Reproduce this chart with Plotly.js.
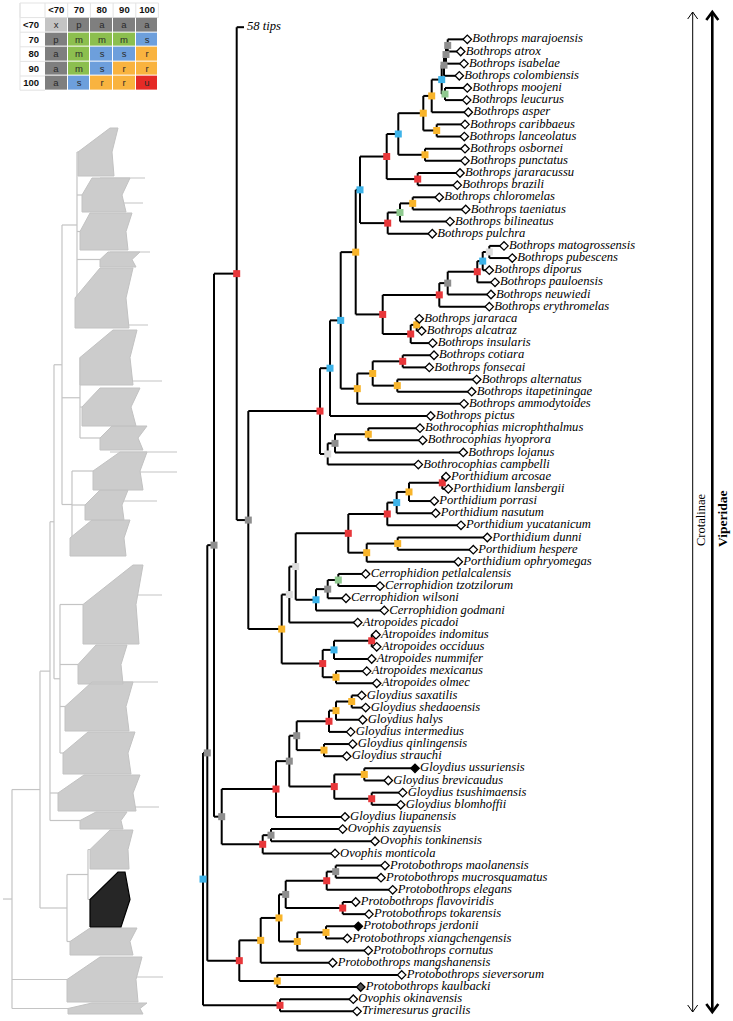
<!DOCTYPE html>
<html><head><meta charset="utf-8">
<script src="https://cdn.plot.ly/plotly-3.0.1.min.js"></script>
<style>html,body{margin:0;padding:0;background:#fff}#chart{width:733px;height:1021px}</style>
</head><body><div id="chart"></div>
<script>
// ---------------- data ----------------
const tipNames = ['58 tips',
 'Bothrops marajoensis','Bothrops atrox','Bothrops isabelae','Bothrops colombiensis','Bothrops moojeni','Bothrops leucurus','Bothrops asper','Bothrops caribbaeus','Bothrops lanceolatus','Bothrops osbornei','Bothrops punctatus','Bothrops jararacussu','Bothrops brazili','Bothrops chloromelas','Bothrops taeniatus','Bothrops bilineatus','Bothrops pulchra',
 'Bothrops matogrossensis','Bothrops pubescens','Bothrops diporus','Bothrops pauloensis','Bothrops neuwiedi','Bothrops erythromelas','Bothrops jararaca','Bothrops alcatraz','Bothrops insularis','Bothrops cotiara','Bothrops fonsecai','Bothrops alternatus','Bothrops itapetiningae','Bothrops ammodytoides','Bothrops pictus',
 'Bothrocophias microphthalmus','Bothrocophias hyoprora','Bothrops lojanus','Bothrocophias campbelli',
 'Porthidium arcosae','Porthidium lansbergii','Porthidium porrasi','Porthidium nasutum','Porthidium yucatanicum','Porthidium dunni','Porthidium hespere','Porthidium ophryomegas',
 'Cerrophidion petlalcalensis','Cerrophidion tzotzilorum','Cerrophidion wilsoni','Cerrophidion godmani','Atropoides picadoi',
 'Atropoides indomitus','Atropoides occiduus','Atropoides nummifer','Atropoides mexicanus','Atropoides olmec',
 'Gloydius saxatilis','Gloydius shedaoensis','Gloydius halys','Gloydius intermedius','Gloydius qinlingensis','Gloydius strauchi','Gloydius ussuriensis','Gloydius brevicaudus','Gloydius tsushimaensis','Gloydius blomhoffii','Gloydius liupanensis',
 'Ovophis zayuensis','Ovophis tonkinensis','Ovophis monticola',
 'Protobothrops maolanensis','Protobothrops mucrosquamatus','Protobothrops elegans','Protobothrops flavoviridis','Protobothrops tokarensis','Protobothrops jerdonii','Protobothrops xiangchengensis','Protobothrops cornutus','Protobothrops mangshanensis','Protobothrops sieversorum','Protobothrops kaulbacki','Ovophis okinavensis','Trimeresurus gracilis'];

const tipDepth = [41,
 264.3,257.7,261,256.3,264.3,263.7,265.3,262,261.3,262,262,257,254.3,236.3,262.7,247,229.3,
 301,309.3,286.3,292,288,286.3,216.3,218.7,229.7,231,226.3,273.7,268.7,261,227.7,
 217,219.7,260.3,215.3,
 243,245.3,231.3,232.7,258,284.3,270.3,255.3,
 162.7,177,143,181.3,154.7,
 173,173.7,168.7,163.7,173.7,
 158.7,162.7,159.7,147.7,149.7,143.7,212,185.3,199.7,197.7,142,
 139.7,172,132,
 182,178,189.7,152.7,166,155.3,144.3,165.3,129.7,198.7,157.7,150.3,154];

// 0 = open diamond, 1 = filled, 2 = grey filled
const tipMark = tipNames.map((n,i)=> (i===61||i===74) ? 1 : (i===79 ? 2 : 0));

// internal nodes n1..n81 (children ids)
const nodeKids = [
 ['t1','t2'],['n1','t3'],['n2','t4'],['t5','t6'],['n3','n4'],['n5','t7'],['t8','t9'],['n6','n7'],['t10','t11'],['n8','n9'],
 ['t12','t13'],['n10','n11'],['t14','t15'],['n13','t16'],['n14','t17'],['n12','n15'],['t18','t19'],['n17','t20'],['n18','t21'],['n19','t22'],
 ['n20','t23'],['t24','t25'],['n22','t26'],['n21','n23'],['n16','n24'],['t27','t28'],['t29','t30'],['n26','n27'],['n28','t31'],['n25','n29'],
 ['n30','t32'],['t33','t34'],['n32','t35'],['n33','t36'],['n31','n34'],['t37','t38'],['n36','t39'],['n37','t40'],['n38','t41'],['t42','t43'],
 ['n40','t44'],['n39','n41'],['t45','t46'],['n43','t47'],['n44','t48'],['n42','n45'],['n46','t49'],['t50','t51'],['n48','t52'],['t53','t54'],
 ['n49','n50'],['n47','n51'],['n35','n52'],['t0','n53'],['t55','t56'],['n55','t57'],['n56','t58'],['t59','t60'],['n57','n58'],['t61','t62'],
 ['t63','t64'],['n60','n61'],['n59','n62'],['n63','t65'],['t66','t67'],['n65','t68'],['n64','n66'],['n54','n67'],['t69','t70'],['n69','t71'],
 ['t72','t73'],['n70','n71'],['t74','t75'],['n73','t76'],['n72','n74'],['n75','t77'],['t78','t79'],['n76','n77'],['n68','n78'],['t80','t81'],
 ['n79','n80']];

const nodeDepth = [
 244.7,243,241,242,238.7,228.7,233.7,220.3,222,195.3,
 214.7,183.7,209.7,197,184.7,157,286.3,279.7,274.3,244.7,
 236.3,213.7,207.7,179.7,152.7,199.7,194.3,169.7,154.3,137.7,
 127,165.3,132,124.7,117,239.3,206,193.7,184.3,194.7,
 163.7,145.3,135.3,124.7,113,92.7,86.3,168.7,131,133,
 119.7,78.7,45.3,33.7,148.7,133,126,121,93.7,161.3,
 168.7,131.3,86.3,73,68,59.7,18.7,11,132.7,123.7,
 139.7,82.7,123,94.3,76,57.7,74.3,36.3,4.3,77,
 0];

const nodeSupport = [
 'a','a','a','m','s','r','r','r','r','s',
 'u','u','r','m','u','s','x','s','u','a',
 'u','r','u','u','r','u','r','r','r','s',
 's','r','a','x','u','u','r','s','u','r',
 'r','u','m','a','s','x','x','u','s','r',
 'u','r','a','u','r','r','u','r','a','r',
 'u','u','a','u','a','u','a','a','a','u',
 'u','a','r','r','r','r','r','u','a','u',
 's'];

// support-category legend table
const supportCols = ['<70','70','80','90','100'];
const supportRows = ['<70','70','80','90','100'];
const supportCodes = [
 ['x','p','a','a','a'],
 ['p','m','m','m','s'],
 ['a','m','s','s','r'],
 ['a','m','s','r','r'],
 ['a','s','r','r','u']];
const codeOrder = ['x','p','a','m','s','r','u'];

// overview (whole squamate tree) clades, top to bottom
const ovTop      = [128,178,213,252,268,330,388,426,452,490,520,565,645,682,732,775,812,830,872,928,957,1003];
const ovBot      = [176,212,250,267,328,385,426,450,490,520,556,644,684,731,774,811,829,869,927,955,1002,1014];
const ovLeft     = [78, 82, 80, 100,75, 80, 82, 100,93, 85, 70, 83, 78, 65, 63, 58, 80, 90, 90, 70, 67, 68];
const ovTopLeft  = [110,92, 90, 108,100,113,100,112,120,100,92, 133,96, 92, 88, 84, 96, 110,118,90, 100,92];
const ovRight    = [118,130,132,140,133,137,140,147,147,128,130,143,127,133,135,140,127,133,125,137,142,147];
const ovRightMid = [112,122,126,132,126,130,131,138,140,122,124,136,121,126,128,133,121,128,130,130,136,140];
const ovHighlight = 18;
const ovGroupX    = [77, 80, 72, 62, 60, 54, 50, 88, 67, 40, 12, 3];
const ovGroupKids = [['c0','c1','c2','c3','c4'],['c5','c6','c7'],['c8','c9','c10'],['g0','g1','g2'],['c11','c12','c13','c14'],['g3','g4'],['g5','c15','c16'],['c17','c18'],['g7','c19'],['g6','g8'],['g9','c20','c21'],['g10']];
const spikeY    = [178,203,252,325,381,452,472,501,595,682,807,977];
const spikeFrom = [100,110,110,112,120,110,125,110,120,110,120,125];
const spikeTo   = [145,143,150,148,162,177,177,157,162,158,159,163];

// ---------------- styles ----------------
const markerColor = {u:'#e8373a', r:'#f8b42a', s:'#3db3e9', m:'#8fc98f', a:'#8e8e8e', p:'#8e8e8e', x:'#dcdcdc'};
const tableColor  = {u:'#e52a26', r:'#f9b33f', s:'#6d9fdc', m:'#8cbf4f', a:'#7f7f7f', p:'#7f7f7f', x:'#c4c4c4'};
const serif = 'Liberation Serif, Times New Roman, serif';
const sans = 'Liberation Sans, Arial, sans-serif';

// ---------------- main tree geometry ----------------
const pos = {};
tipNames.forEach((n,i)=>{ pos['t'+i] = {x: tipDepth[i], y: i}; });
nodeKids.forEach((k,j)=>{
  const a = pos[k[0]], b = pos[k[1]];
  pos['n'+(j+1)] = {x: nodeDepth[j], y: (a.y+b.y)/2};
});
const ex = [], ey = [];
nodeKids.forEach((k,j)=>{
  const p = pos['n'+(j+1)], a = pos[k[0]], b = pos[k[1]];
  ex.push(p.x, p.x, null); ey.push(a.y, b.y, null);
  ex.push(p.x, a.x, null); ey.push(a.y, a.y, null);
  ex.push(p.x, b.x, null); ey.push(b.y, b.y, null);
});

const traces = [];
traces.push({type:'scatter', mode:'lines', x:ex, y:ey, xaxis:'x', yaxis:'y',
  line:{color:'#000', width:2}, hoverinfo:'skip', connectgaps:false});
traces.push({type:'scatter', mode:'markers', xaxis:'x', yaxis:'y',
  x: nodeKids.map((k,j)=>pos['n'+(j+1)].x), y: nodeKids.map((k,j)=>pos['n'+(j+1)].y),
  marker:{symbol:'square', size:7, color: nodeSupport.map(s=>markerColor[s]), line:{width:0}}, hoverinfo:'skip'});
const tipIdx = tipNames.map((n,i)=>i).slice(1);
traces.push({type:'scatter', mode:'markers+text', xaxis:'x', yaxis:'y',
  x: tipIdx.map(i=>tipDepth[i]), y: tipIdx.map(i=>i), text: tipIdx.map(i=>tipNames[i]),
  textposition:'middle right', textfont:{family:serif, size:12.6, style:'italic', color:'#000'},
  marker:{symbol:'diamond', size:6.5, color: tipIdx.map(i=>['#fff','#000','#555'][tipMark[i]]), line:{color:'#000', width:1.3}},
  hoverinfo:'skip', cliponaxis:false});
traces.push({type:'scatter', mode:'text', xaxis:'x', yaxis:'y', x:[tipDepth[0]+3], y:[0], text:[tipNames[0]],
  textposition:'middle right', textfont:{family:serif, size:12.6, style:'italic', color:'#000'}, hoverinfo:'skip', cliponaxis:false});

// ---------------- overview tree ----------------
const ovPos = {};
ovTop.forEach((t,i)=>{ ovPos['c'+i] = {x: ovLeft[i], y:(t+ovBot[i])/2}; });
const gx = [], gy = [];
ovGroupX.forEach((x,k)=>{
  const kids = ovGroupKids[k].map(id=>ovPos[id]);
  const y0 = kids[0].y, y1 = kids[kids.length-1].y;
  ovPos['g'+k] = {x:x, y:(y0+y1)/2};
  gx.push(x,x,null); gy.push(y0,y1,null);
  kids.forEach(c=>{ gx.push(x,c.x,null); gy.push(c.y,c.y,null); });
});
spikeY.forEach((y,i)=>{ gx.push(spikeFrom[i], spikeTo[i], null); gy.push(y,y,null); });
const px = [], py = [], hx = [], hy = [];
ovTop.forEach((t,i)=>{
  const b = ovBot[i], m = (t+b)/2;
  const X = [ovLeft[i], ovLeft[i], ovTopLeft[i], ovRight[i], ovRightMid[i], ovRight[i]-4, ovLeft[i], null];
  const Y = [b, m, t, t, m, b, b, null];
  if (i===ovHighlight) { hx.push(...X); hy.push(...Y); } else { px.push(...X); py.push(...Y); }
});
traces.push({type:'scatter', mode:'lines', x:gx, y:gy, xaxis:'x2', yaxis:'y2', line:{color:'#c4c4c4', width:1.2}, hoverinfo:'skip'});
traces.push({type:'scatter', mode:'lines', x:px, y:py, xaxis:'x2', yaxis:'y2', fill:'toself', fillcolor:'#cccccc', line:{color:'#c2c2c2', width:1}, hoverinfo:'skip'});
traces.push({type:'scatter', mode:'lines', x:hx, y:hy, xaxis:'x2', yaxis:'y2', fill:'toself', fillcolor:'rgba(0,0,0,0.85)', line:{color:'#000', width:1.2}, hoverinfo:'skip'});

// ---------------- brackets ----------------
const thinX = 692.7, thickX = 712.3, yA = 12, yB = 1012;
traces.push({type:'scatter', mode:'lines', xaxis:'x2', yaxis:'y2', hoverinfo:'skip',
  x:[thinX,thinX,null, thinX-5,thinX,thinX+5,null, thinX-5,thinX,thinX+5],
  y:[yA,yB,null, yA+7,yA,yA+7,null, yB-7,yB,yB-7], line:{color:'#000', width:1}});
traces.push({type:'scatter', mode:'lines', xaxis:'x2', yaxis:'y2', hoverinfo:'skip',
  x:[thickX,thickX,null, thickX-6,thickX,thickX+6,null, thickX-6,thickX,thickX+6],
  y:[yA,yB,null, yA+8,yA,yA+8,null, yB-8,yB,yB-8], line:{color:'#000', width:2.6}});

// ---------------- support table (heatmap) ----------------
const nCode = codeOrder.length;
const cscale = [];
codeOrder.forEach((c,k)=>{ cscale.push([k/nCode, tableColor[c]]); cscale.push([(k+1)/nCode, tableColor[c]]); });
// light grid around header row and label column
const tgx = [20,158.4,null, 20,158.4,null, 20,45,null, 20,45,null, 20,45,null, 20,45,null, 20,45,null];
const tgy = [3,3,null, 17.6,17.6,null, 32.2,32.2,null, 46.8,46.8,null, 61.4,61.4,null, 76,76,null, 90.2,90.2,null];
[20,45,67.7,90.4,113.1,135.8,158.4].forEach(x=>{ tgx.push(x,x,null); tgy.push(3,17.6,null); });
tgx.push(20,20,null); tgy.push(3,90.2,null);
traces.push({type:'scatter', mode:'lines', x:tgx, y:tgy, xaxis:'x2', yaxis:'y2', line:{color:'#e3e3e3', width:1}, hoverinfo:'skip'});
traces.push({type:'heatmap', xaxis:'x3', yaxis:'y3', x:supportCols, y:supportRows,
  z: supportCodes.map(r=>r.map(c=>codeOrder.indexOf(c))), text: supportCodes,
  texttemplate:'%{text}', textfont:{family:sans, size:9.5, color:'#2a2a2a'},
  zmin:0, zmax:nCode-1e-9, colorscale:cscale, showscale:false, xgap:1, ygap:1, hoverinfo:'skip'});

const hid = {visible:false, showgrid:false, zeroline:false, fixedrange:true};
const layout = {
  width:733, height:1021, margin:{l:0,r:0,t:0,b:0}, paper_bgcolor:'#fff', plot_bgcolor:'rgba(0,0,0,0)', showlegend:false,
  xaxis: Object.assign({domain:[0,1], range:[-203, 530], anchor:'y'}, hid),
  yaxis: Object.assign({domain:[0,1], range:[81.794, -2.2387], anchor:'x'}, hid),
  xaxis2: Object.assign({domain:[0,1], range:[0,733], anchor:'y2'}, hid),
  yaxis2: Object.assign({domain:[0,1], range:[1021,0], anchor:'x2'}, hid),
  xaxis3: {domain:[45/733, 158.4/733], anchor:'y3', type:'category', side:'top', showgrid:false, zeroline:false, showline:false,
    ticks:'', ticklabelstandoff:2, tickfont:{family:sans, size:9.5, color:'#111', weight:'bold'}, fixedrange:true},
  yaxis3: {domain:[1-90.2/1021, 1-17.6/1021], anchor:'x3', type:'category', autorange:'reversed', showgrid:false, zeroline:false, showline:false,
    ticks:'', ticklabelstandoff:5, tickfont:{family:sans, size:9.5, color:'#111', weight:'bold'}, fixedrange:true},
  annotations:[
    {xref:'x2', yref:'y2', x:701, y:520, text:'Crotalinae', textangle:-90, showarrow:false,
     font:{family:serif, size:12.5, color:'#000'}, xanchor:'center', yanchor:'middle'},
    {xref:'x2', yref:'y2', x:722, y:519, text:'<b>Viperidae</b>', textangle:-90, showarrow:false,
     font:{family:serif, size:13.5, color:'#000'}, xanchor:'center', yanchor:'middle'}
  ]
};
Plotly.newPlot('chart', traces, layout, {staticPlot:true, displayModeBar:false});
</script></body></html>
